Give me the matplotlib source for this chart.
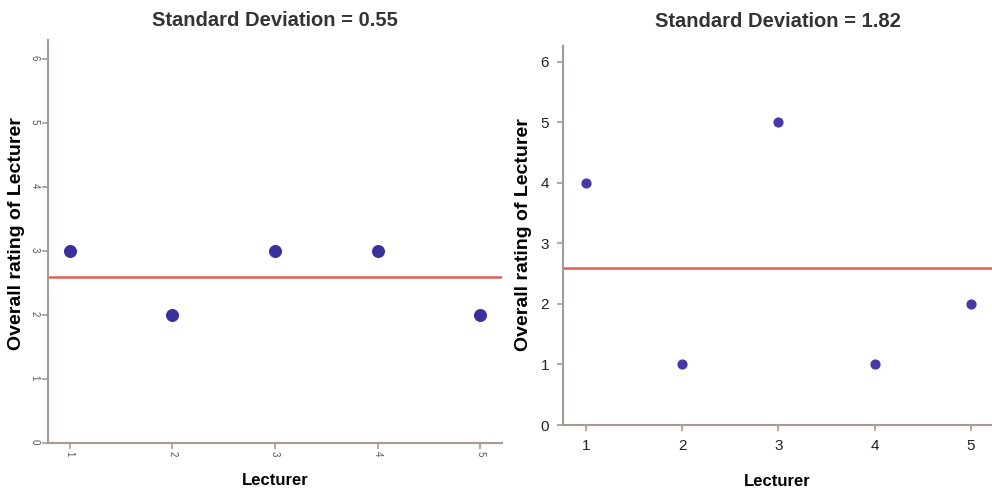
import matplotlib.pyplot as plt

lecturer = [1, 2, 3, 4, 5]
ratings_a = [3, 2, 3, 3, 2]
ratings_b = [4, 1, 5, 1, 2]
mean_a = 2.6
mean_b = 2.6
titles = ["Standard Deviation = 0.55", "Standard Deviation = 1.82"]

plt.rcParams['font.family'] = ['Liberation Sans', 'DejaVu Sans']

fig = plt.figure(figsize=(9.92, 4.91), dpi=100)
axis_col = "#a89a90"

# panel izquierdo (etiquetas pequeñas y giradas, como en el original)
ax1 = fig.add_axes([0.0484, 0.0978, 0.4577, 0.8208])
ax1.scatter(lecturer, ratings_a, s=70, color="#3b2f9c", zorder=3)
ax1.axhline(mean_a, color="#e2604f", lw=1.8, zorder=2)
ax1.set_xlim(0.79, 5.21)
ax1.set_ylim(0, 6.3)
ax1.set_xticks(lecturer)
ax1.set_yticks(range(0, 7))
ax1.tick_params(labelsize=7, colors="#555555", length=4, width=1.2, pad=2)
for lab in ax1.get_xticklabels() + ax1.get_yticklabels():
    lab.set_rotation(-90)
ax1.set_title(titles[0], fontsize=14.5, fontweight="bold", color="#333333", pad=10)
ax1.set_xlabel("Lecturer", fontsize=12, fontweight="bold", labelpad=12)
ax1.set_ylabel("Overall rating of Lecturer", fontsize=14, fontweight="bold")
ax1.yaxis.set_label_coords(-0.051, 0.52)

# panel derecho
ax2 = fig.add_axes([0.5675, 0.1344, 0.4325, 0.774])
ax2.scatter(lecturer, ratings_b, s=40, color="#4a36a8", zorder=3)
ax2.axhline(mean_b, color="#e2604f", lw=1.8, zorder=2)
ax2.set_xlim(0.76, 5.22)
ax2.set_ylim(0, 6.28)
ax2.set_xticks(lecturer)
ax2.set_yticks(range(0, 7))
ax2.tick_params(labelsize=11, colors="#222222", length=4, width=1.2, pad=6)
ax2.set_title(titles[1], fontsize=14.5, fontweight="bold", color="#333333", pad=13)
ax2.set_xlabel("Lecturer", fontsize=12, fontweight="bold", labelpad=15)
ax2.set_ylabel("Overall rating of Lecturer", fontsize=14, fontweight="bold", labelpad=6)

for ax in (ax1, ax2):
    for side in ("top", "right"):
        ax.spines[side].set_visible(False)
    for side in ("left", "bottom"):
        ax.spines[side].set_color(axis_col)
        ax.spines[side].set_linestyle((0, (2, 1)))
        ax.spines[side].set_linewidth(1.5)
    ax.tick_params(color=axis_col)

fig.savefig("out.png", dpi=100)
